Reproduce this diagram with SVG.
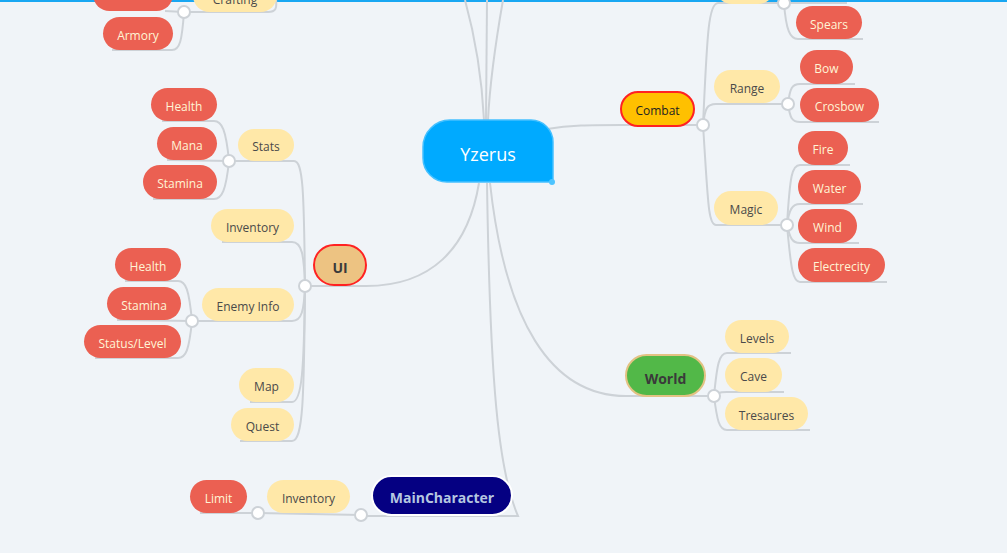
<svg xmlns="http://www.w3.org/2000/svg" width="1007" height="553" viewBox="0 0 1007 553">
<style>
text{font-family:"Open Sans","Liberation Sans",sans-serif;text-anchor:middle}
.c{fill:none;stroke:#cdd2d7;stroke-width:2}
.dot{fill:#fff;stroke:#cdd2d7;stroke-width:2}
.y rect{fill:#ffe8a8}
.y text{fill:#4a4a4a;font-size:12px}
.r rect{fill:#eb6052}
.r text{fill:#fff5d6;font-size:12px}
.b text{font-size:14px;font-weight:bold}
</style>
<rect width="1007" height="553" fill="#f0f4f8"/>
<rect width="1007" height="2" fill="#19a7f2"/>
<g id="connectors">
<path class="c" d="M484,120 C482,80 476,40 465,0"/>
<path class="c" d="M486,120 L487,0"/>
<path class="c" d="M488,120 C490,80 496,40 503,0"/>
<path class="c" d="M547,129 C570,125 590,125 621,125 L703,125"/>
<path class="c" d="M479,183 C468,250 430,286 366,286 L305,286"/>
<path class="c" d="M487,183 C490,380 498,470 518,516 L361,516"/>
<path class="c" d="M490,183 C505,320 550,396 626,396 L714,396"/>
<path class="c" d="M703,125 C707,40 708,3 718,3 L784,3"/>
<path class="c" d="M703,125 C705,108 707,104 716,104 L788,104"/>
<path class="c" d="M703,125 C708,200 708,225 716,225 L787,225"/>
<path class="c" d="M784,3 L847,3"/>
<path class="c" d="M784,3 C786,30 790,39 798,39 L863,39"/>
<path class="c" d="M788,104 C790,88 792,84 800,84 L855,84"/>
<path class="c" d="M788,104 C790,118 792,122 800,122 L879,122"/>
<path class="c" d="M787,225 C790,175 792,165 800,165 L850,165"/>
<path class="c" d="M787,225 C789,210 792,204 800,204 L863,204"/>
<path class="c" d="M787,225 C790,238 792,243 800,243 L859,243"/>
<path class="c" d="M787,225 C791,270 793,282 800,282 L887,282"/>
<path class="c" d="M714,396 C717,365 719,353 727,353 L791,353"/>
<path class="c" d="M714,396 C716,394 718,392 727,392 L784,392"/>
<path class="c" d="M714,396 C717,420 719,430 727,430 L810,430"/>
<path class="c" d="M305,286 C304,190 303,161 294,161 L229,161"/>
<path class="c" d="M305,286 C304,255 302,242 292,242 L222,242"/>
<path class="c" d="M305,286 C304,310 302,321 292,321 L192,321"/>
<path class="c" d="M305,286 C304,370 302,402 292,402 L250,402"/>
<path class="c" d="M305,286 C304,400 303,441 292,441 L240,441"/>
<path class="c" d="M229,161 C226,130 222,121 214,121 L162,121"/>
<path class="c" d="M229,161 L167,160"/>
<path class="c" d="M229,161 C226,190 222,199 214,199 L153,199"/>
<path class="c" d="M192,321 C189,290 186,281 178,281 L125,281"/>
<path class="c" d="M192,321 L117,320"/>
<path class="c" d="M192,321 C189,350 186,358 178,358 L95,358"/>
<path class="c" d="M361,515 L258,513"/>
<path class="c" d="M258,513 L200,513"/>
<path class="c" d="M276,0 C277,8 276,12 268,12 L184,12"/>
<path class="c" d="M184,12 L165,11"/>
<path class="c" d="M184,12 C182,40 180,50 172,50 L112,50"/>
<circle class="dot" cx="703" cy="125" r="6"/>
<circle class="dot" cx="788" cy="104" r="6"/>
<circle class="dot" cx="787" cy="225" r="6"/>
<circle class="dot" cx="784" cy="3" r="6"/>
<circle class="dot" cx="714" cy="396" r="6"/>
<circle class="dot" cx="305" cy="286" r="6"/>
<circle class="dot" cx="229" cy="161" r="6"/>
<circle class="dot" cx="192" cy="321" r="6"/>
<circle class="dot" cx="361" cy="515" r="6"/>
<circle class="dot" cx="258" cy="513" r="6"/>
<circle class="dot" cx="184" cy="12" r="6"/>
</g>
<g id="yzerus">
<path d="M450,120 H531 A22,22 0 0 1 553,142 V182 H447 A24,24 0 0 1 423,158 V147 A27,27 0 0 1 450,120 Z" fill="#00aaff" stroke="#45c0ff" stroke-width="1.5"/>
<circle cx="552" cy="182" r="3" fill="#4dc4ff"/>
<text x="488" y="155" dy="0.35em" fill="#fff" font-size="18">Yzerus</text>
</g>
<g id="combat"><rect x="621" y="92" width="73" height="34" rx="17" fill="#ffc000" stroke="#f22" stroke-width="2"/><text x="657.5" y="110" dy="0.4em" font-size="12" fill="#222">Combat</text></g>
<g id="range" class="y"><rect x="714" y="70" width="66" height="33" rx="16.5"/><text x="747" y="88" dy="0.4em">Range</text></g>
<g id="bow" class="r"><rect x="800" y="50" width="53" height="34" rx="17"/><text x="826.5" y="68.5" dy="0.4em">Bow</text></g>
<g id="crosbow" class="r"><rect x="800" y="88" width="79" height="34" rx="17"/><text x="839.5" y="106.5" dy="0.4em">Crosbow</text></g>
<g id="magic" class="y"><rect x="714" y="191" width="64" height="34" rx="17"/><text x="746" y="209.5" dy="0.4em">Magic</text></g>
<g id="fire" class="r"><rect x="798" y="131" width="50" height="34" rx="17"/><text x="823" y="149.5" dy="0.4em">Fire</text></g>
<g id="water" class="r"><rect x="798" y="170" width="63" height="34" rx="17"/><text x="829.5" y="188.5" dy="0.4em">Water</text></g>
<g id="wind" class="r"><rect x="798" y="209" width="59" height="34" rx="17"/><text x="827.5" y="227.5" dy="0.4em">Wind</text></g>
<g id="electrecity" class="r"><rect x="798" y="248" width="87" height="34" rx="17"/><text x="841.5" y="266.5" dy="0.4em">Electrecity</text></g>
<g id="melee" class="y"><rect x="715" y="-30" width="60" height="34" rx="17"/></g>
<g id="spears" class="r"><rect x="796" y="6" width="66" height="33" rx="16.5"/><text x="829" y="24" dy="0.4em">Spears</text></g>
<g id="world" class="b"><rect x="626" y="355" width="79" height="41" rx="20.5" fill="#52b848" stroke="#e3c283" stroke-width="2"/><text x="665.5" y="378" dy="0.4em" fill="#3a3a3a">World</text></g>
<g id="levels" class="y"><rect x="725" y="320" width="64" height="33" rx="16.5"/><text x="757" y="338" dy="0.4em">Levels</text></g>
<g id="cave" class="y"><rect x="725" y="358" width="57" height="34" rx="17"/><text x="753.5" y="376.5" dy="0.4em">Cave</text></g>
<g id="tresaures" class="y"><rect x="725" y="397" width="83" height="33" rx="16.5"/><text x="766.5" y="415" dy="0.4em">Tresaures</text></g>
<g id="ui" class="b"><rect x="314" y="245" width="52" height="40" rx="20" fill="#edc382" stroke="#f22" stroke-width="2"/><text x="340" y="267.5" dy="0.4em" fill="#3a3a3a">UI</text></g>
<g id="stats" class="y"><rect x="238" y="129" width="56" height="32" rx="16"/><text x="266" y="146.5" dy="0.4em">Stats</text></g>
<g id="health" class="r"><rect x="151" y="88" width="66" height="33" rx="16.5"/><text x="184" y="106" dy="0.4em">Health</text></g>
<g id="mana" class="r"><rect x="157" y="127" width="60" height="33" rx="16.5"/><text x="187" y="145" dy="0.4em">Mana</text></g>
<g id="stamina" class="r"><rect x="143" y="165" width="74" height="34" rx="17"/><text x="180" y="183.5" dy="0.4em">Stamina</text></g>
<g id="inventory" class="y"><rect x="211" y="209" width="83" height="33" rx="16.5"/><text x="252.5" y="227" dy="0.4em">Inventory</text></g>
<g id="enemyinfo" class="y"><rect x="202" y="288" width="92" height="33" rx="16.5"/><text x="248" y="306" dy="0.4em">Enemy Info</text></g>
<g id="health2" class="r"><rect x="115" y="248" width="66" height="33" rx="16.5"/><text x="148" y="266" dy="0.4em">Health</text></g>
<g id="stamina2" class="r"><rect x="107" y="287" width="74" height="33" rx="16.5"/><text x="144" y="305" dy="0.4em">Stamina</text></g>
<g id="statuslevel" class="r"><rect x="84" y="325" width="97" height="33" rx="16.5"/><text x="132.5" y="343" dy="0.4em">Status/Level</text></g>
<g id="map" class="y"><rect x="239" y="368" width="55" height="34" rx="17"/><text x="266.5" y="386.5" dy="0.4em">Map</text></g>
<g id="quest" class="y"><rect x="231" y="408" width="63" height="33" rx="16.5"/><text x="262.5" y="426" dy="0.4em">Quest</text></g>
<g id="maincharacter" class="b"><rect x="372" y="476" width="140" height="39" rx="19.5" fill="#050082" stroke="#fff" stroke-width="2"/><text x="442" y="497.5" dy="0.4em" fill="#b5c7e0">MainCharacter</text></g>
<g id="mcinventory" class="y"><rect x="267" y="480" width="83" height="33" rx="16.5"/><text x="308.5" y="498" dy="0.4em">Inventory</text></g>
<g id="limit" class="r"><rect x="190" y="480" width="57" height="33" rx="16.5"/><text x="218.5" y="498" dy="0.4em">Limit</text></g>
<g id="crafting" class="y"><rect x="193" y="-21" width="84" height="33" rx="16.5"/><text x="235" y="-1" dy="0.4em">Crafting</text></g>
<g id="weapons" class="r"><rect x="93" y="-22" width="80" height="33" rx="16.5"/></g>
<g id="armory" class="r"><rect x="103" y="17" width="70" height="33" rx="16.5"/><text x="138" y="35" dy="0.4em">Armory</text></g>
</svg>
